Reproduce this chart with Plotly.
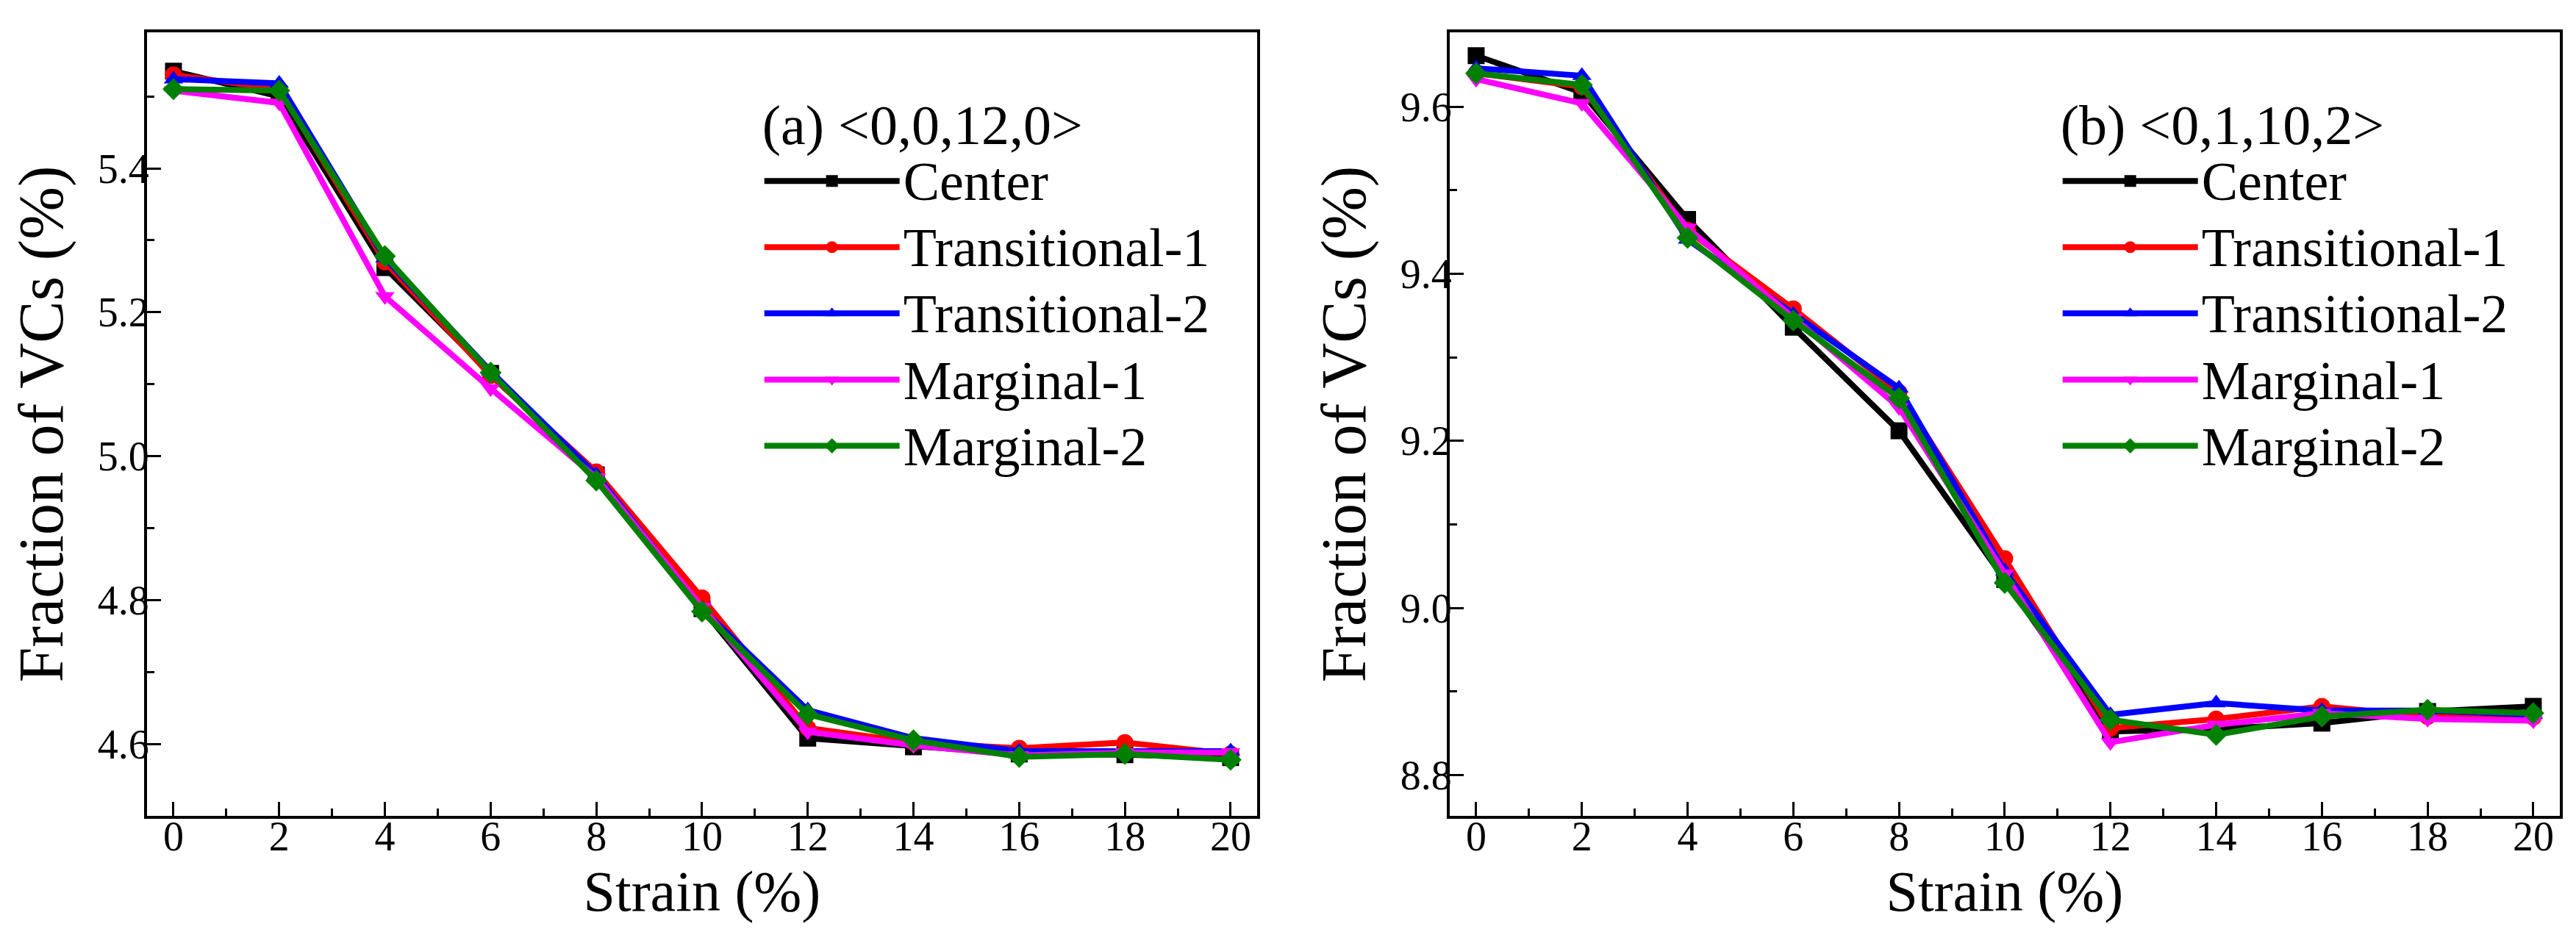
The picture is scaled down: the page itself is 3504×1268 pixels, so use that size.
import plotly.graph_objects as go

# strain values (%) shared by both panels
strain = [0, 2, 4, 6, 8, 10, 12, 14, 16, 18, 20]

series_names = ["Center", "Transitional-1", "Transitional-2", "Marginal-1", "Marginal-2"]
series_colors = ["#000000", "#FF0000", "#0000FF", "#FF00FF", "#008000"]
series_symbols = ["square", "circle", "triangle-up", "triangle-down", "diamond"]

# panel (a) <0,0,12,0>
a_center = [5.535, 5.500, 5.262, 5.115, 4.974, 4.788, 4.608, 4.596, 4.586, 4.585, 4.581]
a_trans1 = [5.530, 5.510, 5.270, 5.112, 4.978, 4.803, 4.622, 4.602, 4.594, 4.602, 4.586]
a_trans2 = [5.524, 5.518, 5.275, 5.118, 4.974, 4.788, 4.647, 4.608, 4.590, 4.590, 4.590]
a_marg1 = [5.508, 5.491, 5.222, 5.094, 4.970, 4.790, 4.617, 4.598, 4.584, 4.588, 4.588]
a_marg2 = [5.510, 5.508, 5.278, 5.116, 4.966, 4.784, 4.641, 4.605, 4.582, 4.586, 4.578]

# panel (b) <0,1,10,2>
b_center = [9.661, 9.617, 9.465, 9.336, 9.212, 9.034, 8.852, 8.855, 8.862, 8.876, 8.882]
b_trans1 = [9.640, 9.624, 9.452, 9.358, 9.258, 9.059, 8.856, 8.867, 8.882, 8.870, 8.869]
b_trans2 = [9.646, 9.637, 9.441, 9.351, 9.263, 9.044, 8.872, 8.886, 8.877, 8.877, 8.872]
b_marg1 = [9.633, 9.604, 9.455, 9.347, 9.240, 9.041, 8.839, 8.860, 8.874, 8.867, 8.865]
b_marg2 = [9.640, 9.626, 9.443, 9.344, 9.251, 9.030, 8.866, 8.848, 8.870, 8.878, 8.874]

panel_a = [a_center, a_trans1, a_trans2, a_marg1, a_marg2]
panel_b = [b_center, b_trans1, b_trans2, b_marg1, b_marg2]

FONT = "Times New Roman, Liberation Serif, DejaVu Serif, serif"

fig = go.Figure()

# legend row height follows legend font size, so text is drawn a bit larger than that
def label(name):
    return "<span style='font-size:74px'>" + name + "</span>"

for i in range(5):
    fig.add_trace(go.Scatter(
        x=strain, y=panel_a[i], mode="lines+markers", name=label(series_names[i]),
        line=dict(color=series_colors[i], width=8),
        marker=dict(symbol=series_symbols[i], size=23, color=series_colors[i]),
        xaxis="x", yaxis="y", legend="legend"))

for i in range(5):
    fig.add_trace(go.Scatter(
        x=strain, y=panel_b[i], mode="lines+markers", name=label(series_names[i]),
        line=dict(color=series_colors[i], width=8),
        marker=dict(symbol=series_symbols[i], size=23, color=series_colors[i]),
        xaxis="x2", yaxis="y2", legend="legend2"))

# common axis look: black frame, inside ticks, minor ticks
def xax(domain, anchor):
    return dict(domain=domain, anchor=anchor, range=[-0.5, 20.5],
                tickmode="linear", tick0=0, dtick=2,
                ticks="inside", ticklen=19, tickwidth=3, tickcolor="black",
                minor=dict(ticks="inside", ticklen=10, tickwidth=3, dtick=1, tickcolor="black"),
                showline=True, linewidth=4, linecolor="black", mirror=True,
                showgrid=False, zeroline=False, ticklabelstandoff=-24,
                tickfont=dict(family=FONT, size=56, color="black"),
                title=dict(text="Strain (%)", font=dict(family=FONT, size=78, color="black"), standoff=0))

def yax(domain, anchor, rng, t0):
    return dict(domain=domain, anchor=anchor, range=rng,
                tickmode="linear", tick0=t0, dtick=0.2, tickformat=".1f",
                ticks="inside", ticklen=19, tickwidth=3, tickcolor="black",
                minor=dict(ticks="inside", ticklen=10, tickwidth=3, dtick=0.1, tickcolor="black"),
                showline=True, linewidth=4, linecolor="black", mirror=True,
                showgrid=False, zeroline=False, ticklabelstandoff=-18,
                tickfont=dict(family=FONT, size=56, color="black"),
                title=dict(text="Fraction of VCs (%)", font=dict(family=FONT, size=86, color="black"), standoff=20))

def leg(x, y, title):
    return dict(x=x, y=y, xanchor="left", yanchor="top", xref="paper", yref="paper",
                bgcolor="rgba(0,0,0,0)", borderwidth=0,
                font=dict(family=FONT, size=67, color="black"),
                title=dict(text=title, font=dict(family=FONT, size=76, color="black")),
                itemwidth=184, tracegroupgap=0)

fig.update_layout(
    width=3504, height=1268,
    margin=dict(l=0, r=0, t=36, b=166),
    paper_bgcolor="white", plot_bgcolor="white",
    xaxis=xax([0.0548, 0.4857], "y"),
    yaxis=yax([0, 1], "x", [4.5, 5.589], 4.6),
    xaxis2=xax([0.5605, 0.9914], "y2"),
    yaxis2=yax([0, 1], "x2", [8.751, 9.689], 8.8),
    legend=leg(0.293, 0.95, "(a) &lt;0,0,12,0&gt;"),
    legend2=leg(0.797, 0.95, "(b) &lt;0,1,10,2&gt;"),
)

fig.write_html("out.html")
